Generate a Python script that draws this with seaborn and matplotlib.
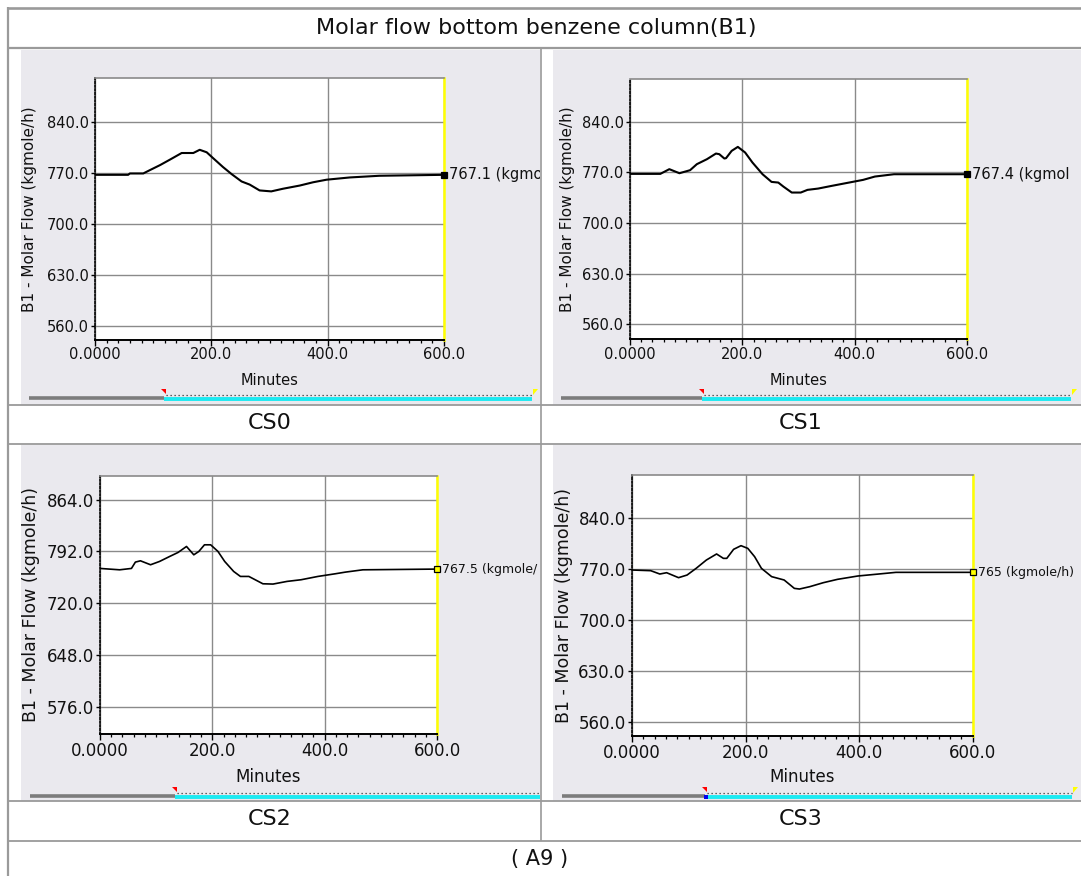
import matplotlib
matplotlib.use("Agg")
import numpy as np
import pandas as pd
import matplotlib.pyplot as plt
import seaborn as sns
from matplotlib.patches import Rectangle, Polygon
from matplotlib.ticker import FixedLocator, FixedFormatter, AutoMinorLocator
import matplotlib.transforms as mtransforms

# ---------------- data ----------------
cs0_minutes = [0, 57, 60, 83, 94, 112, 129, 149, 169, 180, 192, 203, 220, 235,
               252, 266, 283, 303, 323, 352, 375, 398, 438, 489, 600]
cs0_flow = [767.1, 767.1, 769.0, 769.0, 773.4, 780.5, 788.0, 797.0, 797.0, 801.4,
            798.0, 790.0, 777.8, 768.0, 758.0, 753.7, 745.7, 744.4, 748.0, 752.4,
            756.9, 760.4, 763.5, 765.8, 767.1]

cs1_minutes = [0, 54, 70, 88, 107, 119, 137, 153, 159, 168, 171, 181, 192, 205,
               218, 236, 252, 264, 273, 288, 304, 316, 335, 359, 390, 415, 436,
               470, 600]
cs1_flow = [767.9, 767.9, 774.4, 768.8, 773.0, 781.3, 788.2, 796.0, 795.1, 789.1,
            789.6, 799.7, 805.2, 797.4, 783.6, 767.4, 756.8, 755.9, 750.4, 742.1,
            742.1, 745.8, 747.6, 751.3, 755.9, 759.6, 764.2, 767.4, 767.4]

cs2_minutes = [0, 35, 56, 63, 72, 90, 106, 124, 139, 154, 167, 176, 186, 197,
               210, 222, 238, 250, 265, 290, 308, 333, 358, 388, 419, 437, 468, 600]
cs2_flow = [768.4, 766.5, 768.4, 777.2, 779.0, 773.5, 778.1, 785.0, 790.6, 798.9,
            787.3, 792.0, 801.2, 801.2, 792.0, 778.1, 764.2, 757.3, 757.3, 747.1,
            746.7, 750.4, 752.7, 757.3, 761.0, 763.3, 766.5, 767.5]

cs3_minutes = [0, 33, 49, 61, 82, 97, 113, 131, 149, 161, 167, 179, 192, 204,
               216, 228, 246, 268, 286, 295, 313, 337, 362, 398, 429, 465, 600]
cs3_flow = [768.2, 767.3, 762.7, 764.5, 757.7, 761.3, 770.5, 781.9, 790.2, 784.2,
            784.2, 796.6, 801.6, 797.9, 786.5, 770.5, 759.1, 754.5, 743.0, 742.1,
            745.3, 750.8, 755.4, 760.0, 762.3, 765.0, 765.0]

case_names = ["CS0", "CS1", "CS2", "CS3"]
# end-value labels as they are visible in the reference (cut by the table cells)
end_labels = ["767.1 (kgmo", "767.4 (kgmol", "767.5 (kgmole/", "765 (kgmole/h)"]
yticks_std = [560, 630, 700, 770, 840]
yticks_cs2 = [576, 648, 720, 792, 864]
ytick_labels_std = ["560.0", "630.0", "700.0", "770.0", "840.0"]
ytick_labels_cs2 = ["576.0", "648.0", "720.0", "792.0", "864.0"]
xticks = [0, 200, 400, 600]
xtick_labels = ["0.0000", "200.0", "400.0", "600.0"]
title_text = "Molar flow bottom benzene column(B1)"
footer_text = "( A9 )"
y_label = "B1 - Molar Flow (kgmole/h)"
x_label = "Minutes"

series = {
    "CS0": (cs0_minutes, cs0_flow),
    "CS1": (cs1_minutes, cs1_flow),
    "CS2": (cs2_minutes, cs2_flow),
    "CS3": (cs3_minutes, cs3_flow),
}
frames = []
for name, (m, f) in series.items():
    frames.append(pd.DataFrame({"Case": name, "Minutes": m, "Flow": f}))
df = pd.concat(frames, ignore_index=True)

# ---------------- figure ----------------
sns.set_theme(style="white")
plt.rcParams['font.family'] = ['DejaVu Sans']

W, H = 1081, 876
fig = plt.figure(figsize=(W / 100, H / 100), dpi=100)
fig.patch.set_facecolor("white")

bg = fig.add_axes([0, 0, 1, 1])
bg.set_xlim(0, W)
bg.set_ylim(H, 0)
bg.axis("off")

def rect(x0, y0, x1, y1):
    return [x0 / W, 1 - y1 / H, (x1 - x0) / W, (y1 - y0) / H]

panel_gray = "#EAE9EE"
border = "#9A9A9A"

layout = {
    "CS0": dict(cell=(21, 50, 540, 405), box=(95, 78, 444, 339.5), ylim=(541.4, 899.8),
                yt=yticks_std, ytl=ytick_labels_std, fs=10.5, efs=10.5, lw=1.5,
                mfc="black", ylx=30, xly=373, sb=(29, 164, 532, 398), yellow=True, blue=False,
                label_xy=(270, 423)),
    "CS1": dict(cell=(553, 50, 1081, 405), box=(630, 79, 967, 339.3), ylim=(539.3, 899.0),
                yt=yticks_std, ytl=ytick_labels_std, fs=10.5, efs=10.5, lw=1.5,
                mfc="black", ylx=568, xly=373, sb=(561, 702, 1071, 398), yellow=True, blue=False,
                label_xy=(801, 423)),
    "CS2": dict(cell=(21, 445, 540, 801), box=(100, 476, 437, 734), ylim=(538.6, 896.7),
                yt=yticks_cs2, ytl=ytick_labels_cs2, fs=12, efs=9, lw=1.2,
                mfc="#FFFF00", ylx=33, xly=768, sb=(30, 175, 540, 796), yellow=False, blue=False,
                label_xy=(270, 819)),
    "CS3": dict(cell=(553, 445, 1081, 801), box=(632, 475, 972.6, 736), ylim=(540.4, 898.6),
                yt=yticks_std, ytl=ytick_labels_std, fs=12, efs=9, lw=1.2,
                mfc="#FFFF00", ylx=566.5, xly=768, sb=(562, 705, 1072, 796), yellow=True, blue=True,
                label_xy=(801, 819)),
}

for name in case_names:
    x0, y0, x1, y1 = layout[name]["cell"]
    bg.add_patch(Rectangle((x0, y0), x1 - x0, y1 - y0, facecolor=panel_gray, edgecolor="none", zorder=0))

bg.plot([8, W], [8, 8], color=border, lw=1.9, solid_capstyle="butt")
bg.plot([8, 8], [7, H], color=border, lw=1.6, solid_capstyle="butt")
bg.plot([8, W], [48, 48], color=border, lw=1.6, solid_capstyle="butt")
for yy in (405, 444, 801, 841):
    bg.plot([8, W], [yy, yy], color=border, lw=1.3, solid_capstyle="butt")
bg.plot([540.5, 540.5], [48, 841], color=border, lw=1.2, solid_capstyle="butt")

bg.text(536, 28, title_text, ha="center", va="center", fontsize=16, color="#111111")
bg.text(540, 859, footer_text, ha="center", va="center", fontsize=15, color="#111111")

def scrollbar(x0, xs, xe, y, yellow, blue):
    bg.plot([x0, xs], [y, y], color="#7C7C7C", lw=2.6, solid_capstyle="butt", zorder=2)
    bg.plot([xs, xe], [y + 0.5, y + 0.5], color="#1BEAF2", lw=2.8, solid_capstyle="butt", zorder=2)
    bg.plot([xs + 2, xe], [y - 3, y - 3], color="#333333", lw=0.9, linestyle=(0, (1, 2.2)), zorder=2)
    bg.add_patch(Polygon([[xs - 3, y - 9], [xs + 2, y - 9], [xs + 2, y - 4]], closed=True,
                         facecolor="red", edgecolor="none", zorder=3))
    if yellow:
        bg.add_patch(Polygon([[xe + 1, y - 9], [xe + 6, y - 9], [xe + 1, y - 3]], closed=True,
                             facecolor="#FFFF00", edgecolor="none", zorder=3))
    if blue:
        bg.add_patch(Rectangle((xs - 1, y - 1.5), 4, 4, facecolor="#0000EE", edgecolor="none", zorder=3))

for name in case_names:
    L = layout[name]
    x0, y0, x1, y1 = L["box"]
    ax = fig.add_axes(rect(x0, y0, x1, y1))
    ax.set_facecolor("white")
    sub = df[df["Case"] == name]
    sns.lineplot(data=sub, x="Minutes", y="Flow", ax=ax, color="black", lw=L["lw"],
                 estimator=None, sort=False, legend=False, zorder=3)
    ax.plot([sub["Minutes"].iloc[-1]], [sub["Flow"].iloc[-1]], marker="s", ms=4.2,
            mfc=L["mfc"], mec="black", mew=0.9, clip_on=False, zorder=5)

    ax.set_xlim(0, 600)
    ax.set_ylim(*L["ylim"])
    ax.xaxis.set_major_locator(FixedLocator(xticks))
    ax.xaxis.set_major_formatter(FixedFormatter(xtick_labels))
    ax.xaxis.set_minor_locator(AutoMinorLocator(10))
    ax.yaxis.set_major_locator(FixedLocator(L["yt"]))
    ax.yaxis.set_major_formatter(FixedFormatter(L["ytl"]))
    ax.grid(True, which="major", color="#8A8A8A", lw=1.0)
    ax.set_axisbelow(True)

    ax.spines["top"].set_color("#8A8A8A")
    ax.spines["top"].set_linewidth(1.2)
    ax.spines["right"].set_color("#FFFF00")
    ax.spines["right"].set_linewidth(1.8)
    ax.spines["bottom"].set_color("black")
    ax.spines["bottom"].set_linewidth(1.4)
    ax.spines["left"].set_color("black")
    ax.spines["left"].set_linewidth(1.2)
    ax.spines["left"].set_linestyle((0, (1, 1.2)))

    ax.tick_params(axis="x", which="major", direction="out", length=4, width=1.0,
                   color="black", labelsize=L["fs"], pad=1.5, bottom=True, labelcolor="#111111")
    ax.tick_params(axis="x", which="minor", direction="out", length=2.2, width=0.9,
                   color="black", bottom=True)
    ax.tick_params(axis="y", which="major", direction="out", length=3, width=1.0,
                   color="black", labelsize=L["fs"], pad=1.5, left=True, labelcolor="#111111")

    hgt = y1 - y0
    wid = x1 - x0
    ax.set_xlabel(x_label, fontsize=L["fs"], color="#111111")
    ax.xaxis.set_label_coords(0.5, -(L["xly"] - y1) / hgt)
    ax.xaxis.label.set_va("top")
    ax.set_ylabel(y_label, fontsize=L["fs"] + 0.5, color="#111111")
    ax.yaxis.set_label_coords((L["ylx"] + 7 - x0) / wid, 0.5)

    cx0, cy0, cx1, cy1 = L["cell"]
    clip = Rectangle((cx0, cy0), cx1 - cx0, cy1 - cy0, transform=bg.transData)
    tr = mtransforms.offset_copy(ax.transData, fig=fig, x=5, y=0, units="dots")
    t = ax.text(sub["Minutes"].iloc[-1], sub["Flow"].iloc[-1], end_labels[case_names.index(name)],
                transform=tr, ha="left", va="center", fontsize=L["efs"], color="#111111",
                clip_on=True)
    t.set_clip_path(clip)

    sx0, sxs, sxe, sy = L["sb"]
    scrollbar(sx0, sxs, sxe, sy, L["yellow"], L["blue"])

    lx, ly = L["label_xy"]
    bg.text(lx, ly, name, ha="center", va="center", fontsize=16, color="#111111")

fig.savefig("out.png", dpi=100, facecolor="white")
